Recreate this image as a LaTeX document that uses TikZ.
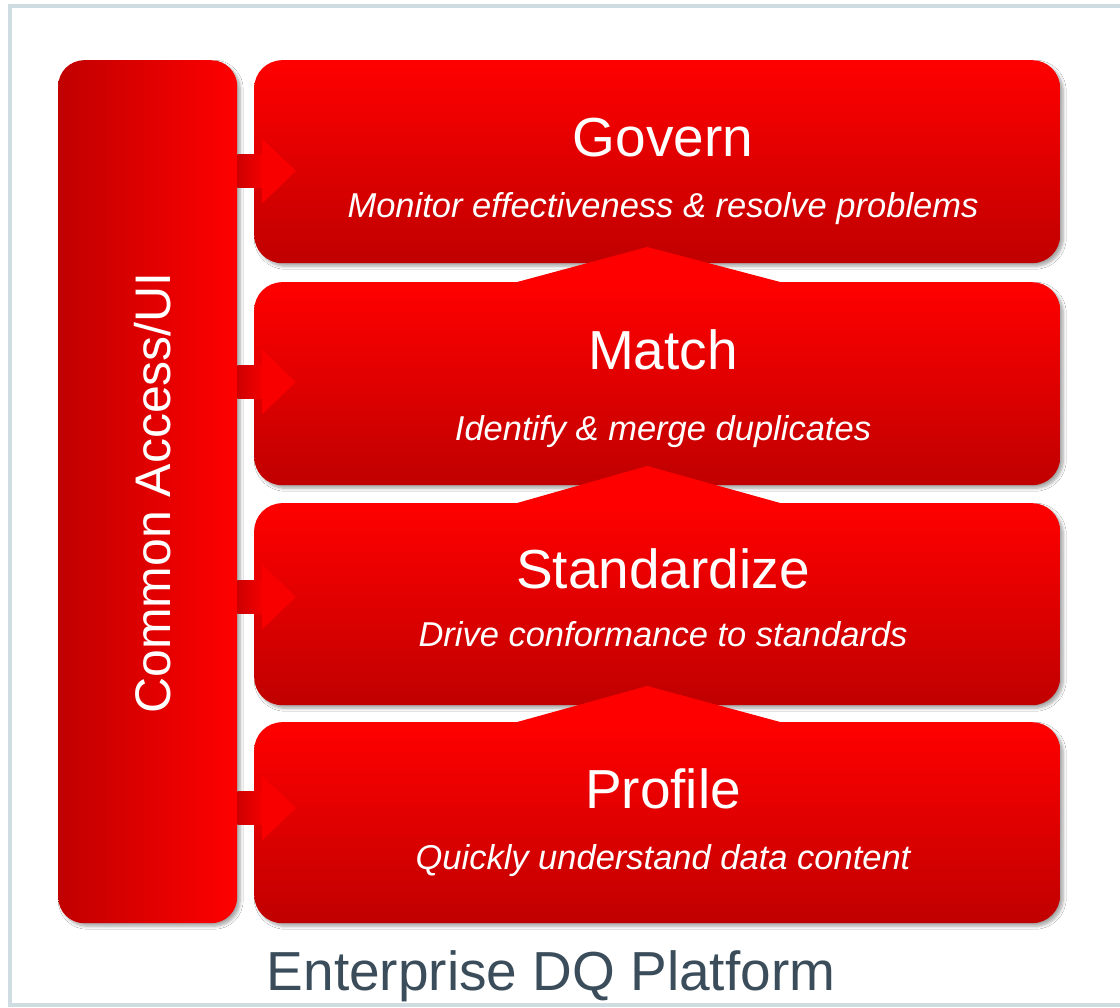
\documentclass[tikz,border=0pt]{standalone}
\usepackage{fontspec}
\setmainfont{Liberation Sans}
\usetikzlibrary{calc,shadows.blur}
\definecolor{redtop}{RGB}{255,0,0}
\definecolor{redbot}{RGB}{192,0,0}
\definecolor{shaftl}{RGB}{205,0,0}
\definecolor{shaftr}{RGB}{245,0,0}
\definecolor{headcol}{RGB}{248,0,0}
\definecolor{framecol}{RGB}{207,221,226}
\definecolor{platcol}{RGB}{59,77,90}
\begin{document}
\begin{tikzpicture}[x=1pt,y=-1pt,
  softshadow/.style={blur shadow={shadow xshift=3pt, shadow yshift=-3pt, shadow opacity=35, shadow blur steps=6, shadow blur radius=3pt}},
  stagebox/.style={rectangle, rounded corners=28pt, top color=redtop, bottom color=redbot, draw=none, minimum width=806pt, inner sep=0pt, anchor=north west, softshadow},
  barbox/.style={rectangle, rounded corners=26pt, left color=redbot, right color=redtop, draw=none, minimum width=179pt, minimum height=863pt, inner sep=0pt, anchor=north west, softshadow},
  titletext/.style={anchor=base, text=white, font=\fontsize{55}{60}\selectfont},
  subtext/.style={anchor=base, text=white, font=\fontsize{34.5}{40}\selectfont\itshape},
  shaftfill/.style={left color=shaftl, right color=shaftr},
  headfill/.style={fill=headcol},
  chevron/.style={fill=redtop}
]
\useasboundingbox (0,0) rectangle (1120,1008);
\fill[white] (0,0) rectangle (1120,1008);
\draw[framecol, line width=4pt] (1130,6) -- (10,6) -- (10,1005) -- (1130,1005);

% left bar
\node[barbox] (bar) at (58,60) {};
\node[anchor=base, rotate=90, text=white, font=\fontsize{50}{56}\selectfont] (barT) at (170,493) {Common Access/UI};

% stage boxes
\node[stagebox, minimum height=203pt] (gov) at (254,60) {};
\node[stagebox, minimum height=203pt] (mat) at (254,282) {};
\fill[chevron] ($(mat.north)+(-140,0)$) -- ($(mat.north)+(-10,-35)$) -- ($(mat.north)+(123,0)$) -- cycle;
\node[stagebox, minimum height=202pt] (std) at (254,503) {};
\fill[chevron] ($(std.north)+(-140,0)$) -- ($(std.north)+(-10,-37)$) -- ($(std.north)+(123,0)$) -- cycle;
\node[stagebox, minimum height=201pt] (pro) at (254,722) {};
\fill[chevron] ($(pro.north)+(-140,0)$) -- ($(pro.north)+(-10,-36)$) -- ($(pro.north)+(123,0)$) -- cycle;

% side arrows
\foreach \bx/\yy in {gov/171, mat/382, std/597, pro/808}{
  \coordinate (a-\bx) at (0,\yy);
  \shade[shaftfill] ($(bar.east |- a-\bx)+(0,-16.5)$) rectangle ($(\bx.west |- a-\bx)+(9,16.5)$);
  \fill[headfill] ($(\bx.west |- a-\bx)+(8,-32.5)$) -- ($(\bx.west |- a-\bx)+(42,0)$) -- ($(\bx.west |- a-\bx)+(8,32.5)$) -- cycle;
}

% texts
\node[titletext] (govT) at (663,157) {Govern};
\node[subtext] (govS) at (663,218) {Monitor effectiveness \& resolve problems};
\node[titletext] (matT) at (663,370) {Match};
\node[subtext] (matS) at (663,440) {Identify \& merge duplicates};
\node[titletext] (stdT) at (663,588) {Standardize};
\node[subtext] (stdS) at (663,646) {Drive conformance to standards};
\node[titletext] (proT) at (663,808) {Profile};
\node[subtext] (proS) at (663,869) {Quickly understand data content};

\node[anchor=base, text=platcol, font=\fontsize{55}{60}\selectfont] (plat) at (551,990) {Enterprise DQ Platform};
\end{tikzpicture}
\end{document}
